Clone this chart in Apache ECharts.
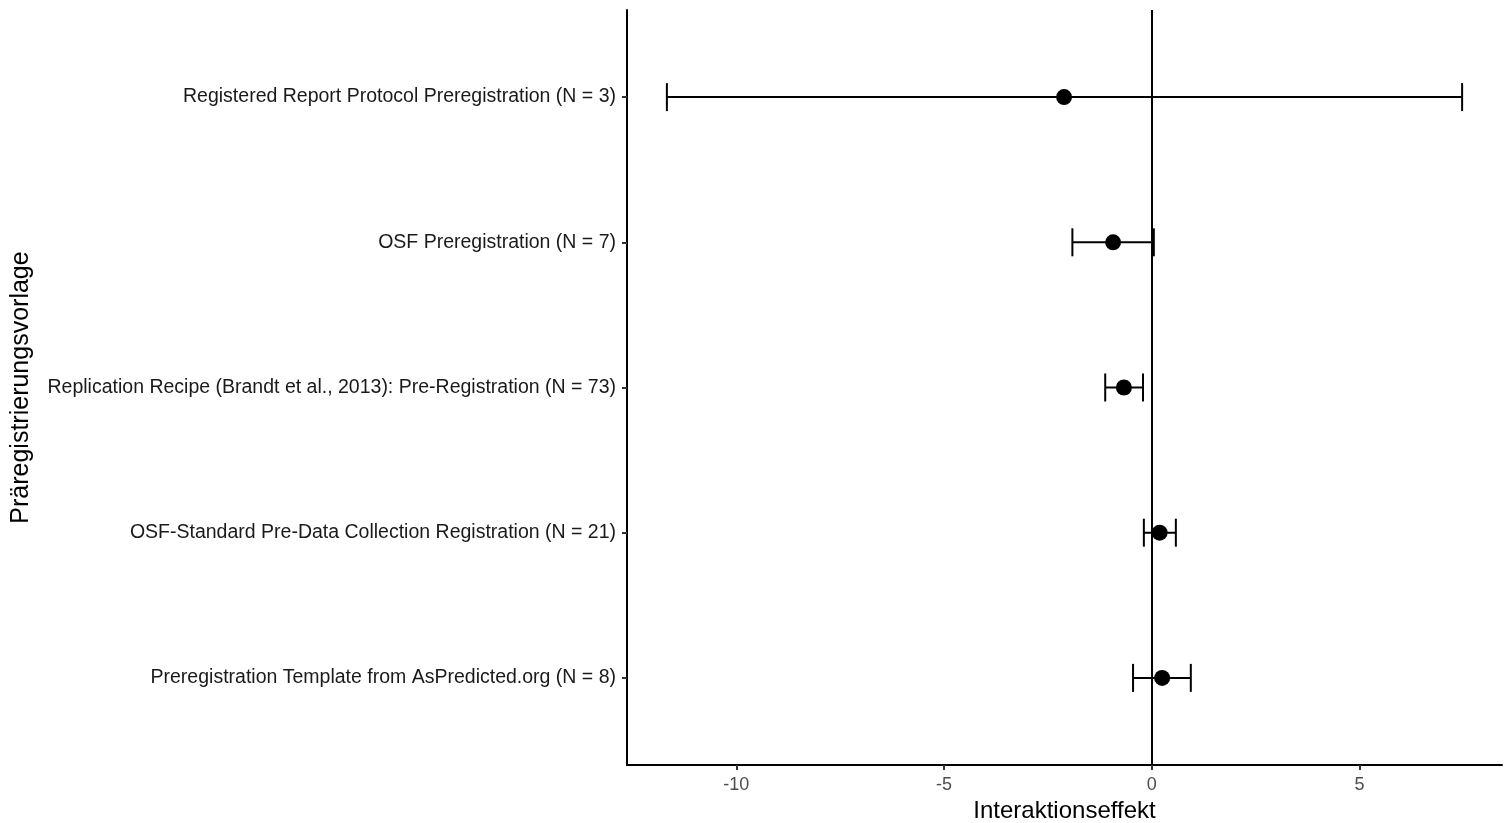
<!DOCTYPE html>
<html>
<head>
<meta charset="utf-8">
<script src="https://cdn.jsdelivr.net/npm/echarts@6/dist/echarts.min.js"></script>
<style>
  html, body { margin: 0; padding: 0; background: #fff; }
  #chart { width: 1510px; height: 823px; }
</style>
</head>
<body>
<div id="chart"></div>
<script>
// Präregistrierungsvorlagen, von oben nach unten
var vorlagen = [
  'Registered Report Protocol Preregistration (N = 3)',
  'OSF Preregistration (N = 7)',
  'Replication Recipe (Brandt et al., 2013): Pre-Registration (N = 73)',
  'OSF-Standard Pre-Data Collection Registration (N = 21)',
  'Preregistration Template from AsPredicted.org (N = 8)'
]
var effekt = [-2.11, -0.93, -0.67, 0.19, 0.25]
var untereGrenze = [-11.67, -1.91, -1.12, -0.19, -0.45]
var obereGrenze = [7.47, 0.05, -0.21, 0.58, 0.94]
var xTicks = [-10, -5, 0, 5]

var font = 'Liberation Sans, Arial, sans-serif'
var chart = echarts.init(document.getElementById('chart'))

var punkte = effekt.map(function (v, i) { return [v, i] })
var balken = effekt.map(function (v, i) { return [untereGrenze[i], obereGrenze[i], i] })

var option = {
  animation: false,
  backgroundColor: '#fff',
  grid: { left: 627, right: 8, top: 10, bottom: 58, outerBoundsMode: 'none', containLabel: false },
  xAxis: {
    type: 'value',
    min: -12.63,
    max: 8.43,
    name: 'Interaktionseffekt',
    nameLocation: 'middle',
    nameGap: 31,
    nameTextStyle: { color: '#000', fontSize: 24, fontFamily: font },
    axisLine: { show: true, onZero: false, lineStyle: { color: '#000', width: 2 } },
    axisTick: { show: true, length: 5, customValues: xTicks, lineStyle: { color: '#333', width: 2 } },
    axisLabel: { customValues: xTicks, color: '#4d4d4d', fontSize: 18, fontFamily: font, margin: 11 },
    splitLine: { show: false }
  },
  yAxis: {
    type: 'value',
    inverse: true,
    min: -0.6,
    max: 4.6,
    name: 'Präregistrierungsvorlage',
    nameLocation: 'middle',
    nameRotate: 90,
    nameGap: 593,
    nameTextStyle: { color: '#000', fontSize: 25, fontFamily: font },
    axisLine: { show: true, onZero: false, lineStyle: { color: '#000', width: 2 } },
    axisTick: { show: true, length: 5, customValues: [0, 1, 2, 3, 4], lineStyle: { color: '#333', width: 2 } },
    axisLabel: {
      customValues: [0, 1, 2, 3, 4],
      color: '#1a1a1a',
      fontSize: 19.5,
      fontFamily: font,
      margin: 11,
      formatter: function (v) { return vorlagen[Math.round(v)] }
    },
    splitLine: { show: false }
  },
  series: [
    {
      type: 'custom',
      data: balken,
      silent: true,
      renderItem: function (params, api) {
        var p1 = api.coord([api.value(0), api.value(2)])
        var p2 = api.coord([api.value(1), api.value(2)])
        var h = 14
        var style = { stroke: '#000', lineWidth: 2 }
        return {
          type: 'group',
          children: [
            { type: 'line', shape: { x1: p1[0], y1: p1[1], x2: p2[0], y2: p2[1] }, style: style },
            { type: 'line', shape: { x1: p1[0], y1: p1[1] - h, x2: p1[0], y2: p1[1] + h }, style: style },
            { type: 'line', shape: { x1: p2[0], y1: p2[1] - h, x2: p2[0], y2: p2[1] + h }, style: style }
          ]
        }
      },
      z: 3
    },
    {
      type: 'scatter',
      data: punkte,
      symbol: 'circle',
      symbolSize: 16,
      itemStyle: { color: '#000', opacity: 1 },
      silent: true,
      z: 4,
      markLine: {
        silent: true,
        symbol: ['none', 'none'],
        label: { show: false },
        lineStyle: { color: '#000', width: 2, type: 'solid' },
        data: [{ xAxis: 0 }]
      }
    }
  ]
}

chart.setOption(option)
</script>
</body>
</html>
